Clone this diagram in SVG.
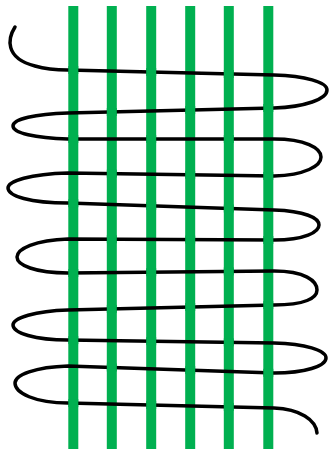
<svg xmlns="http://www.w3.org/2000/svg" width="329" height="453" viewBox="0 0 329 453">
<style>
.bar{fill:#00b050}
.weft{fill:none;stroke:#000;stroke-width:3.5;stroke-linecap:round;stroke-linejoin:round}
</style>
<rect width="329" height="453" fill="#fff"/>
<g id="warp">
<rect id="bar1" class="bar" x="68.3" y="6" width="10" height="443"/>
<rect id="bar2" class="bar" x="106.8" y="6" width="10" height="443"/>
<rect id="bar3" class="bar" x="146.2" y="6" width="10" height="443"/>
<rect id="bar4" class="bar" x="185.2" y="6" width="10" height="443"/>
<rect id="bar5" class="bar" x="223.8" y="6" width="10" height="443"/>
<rect id="bar6" class="bar" x="263.3" y="6" width="10" height="443"/>
</g>
<g id="connectors">
<path class="weft" d="M 15 27 C 8 38, 4 58, 35 66 C 45 69, 55 70, 68 70 L 274 75 C 305 76, 327 82, 327 90 C 327 99, 305 107, 274 108 L 68 113 C 35 114, 13 119, 13 126 C 13 133, 35 138, 68 139 L 274 139 C 305 139, 321 148, 321 157 C 321 166, 305 175, 274 176 L 68 173 C 30 174, 8 181, 8 188 C 8 196, 30 203, 68 203 L 274 210 C 305 211, 319 218, 319 225 C 319 232, 305 240, 274 240 L 68 239 C 35 240, 17 249, 17 257 C 17 265, 35 273, 68 273 L 274 271 C 305 271, 317 281, 317 290 C 317 298, 305 305, 274 305 L 68 310 C 35 311, 13 318, 13 325 C 13 333, 35 340, 68 340 L 274 343 C 305 344, 326 350, 326 358 C 326 366, 305 373, 274 373 L 68 366 C 35 367, 15 375, 15 383 C 15 393, 35 403, 68 403 L 274 408 C 300 409, 316 420, 317 433"/>
</g>
<g id="warp-over">
<rect class="bar" x="68.3" y="66" width="10" height="8"/>
<rect class="bar" x="146.2" y="68" width="10" height="8"/>
<rect class="bar" x="223.8" y="70" width="10" height="8"/>
<rect class="bar" x="106.8" y="108" width="10" height="8"/>
<rect class="bar" x="185.2" y="106" width="10" height="8"/>
<rect class="bar" x="263.3" y="104" width="10" height="8"/>
<rect class="bar" x="68.3" y="135" width="10" height="8"/>
<rect class="bar" x="146.2" y="135" width="10" height="8"/>
<rect class="bar" x="223.8" y="135" width="10" height="8"/>
<rect class="bar" x="106.8" y="169.6" width="10" height="8"/>
<rect class="bar" x="185.2" y="170.8" width="10" height="8"/>
<rect class="bar" x="263.3" y="171.9" width="10" height="8"/>
<rect class="bar" x="68.3" y="199.2" width="10" height="8"/>
<rect class="bar" x="146.2" y="201.8" width="10" height="8"/>
<rect class="bar" x="223.8" y="204.5" width="10" height="8"/>
<rect class="bar" x="106.8" y="235.2" width="10" height="8"/>
<rect class="bar" x="185.2" y="235.6" width="10" height="8"/>
<rect class="bar" x="263.3" y="236" width="10" height="8"/>
<rect class="bar" x="68.3" y="269" width="10" height="8"/>
<rect class="bar" x="146.2" y="268.2" width="10" height="8"/>
<rect class="bar" x="223.8" y="267.4" width="10" height="8"/>
<rect class="bar" x="106.8" y="304.9" width="10" height="8"/>
<rect class="bar" x="185.2" y="303" width="10" height="8"/>
<rect class="bar" x="263.3" y="301.1" width="10" height="8"/>
<rect class="bar" x="68.3" y="336.1" width="10" height="8"/>
<rect class="bar" x="146.2" y="337.2" width="10" height="8"/>
<rect class="bar" x="223.8" y="338.3" width="10" height="8"/>
<rect class="bar" x="106.8" y="363.5" width="10" height="8"/>
<rect class="bar" x="185.2" y="366.1" width="10" height="8"/>
<rect class="bar" x="263.3" y="368.8" width="10" height="8"/>
<rect class="bar" x="68.3" y="399.1" width="10" height="8"/>
<rect class="bar" x="146.2" y="401" width="10" height="8"/>
<rect class="bar" x="223.8" y="402.9" width="10" height="8"/>
</g>
</svg>
